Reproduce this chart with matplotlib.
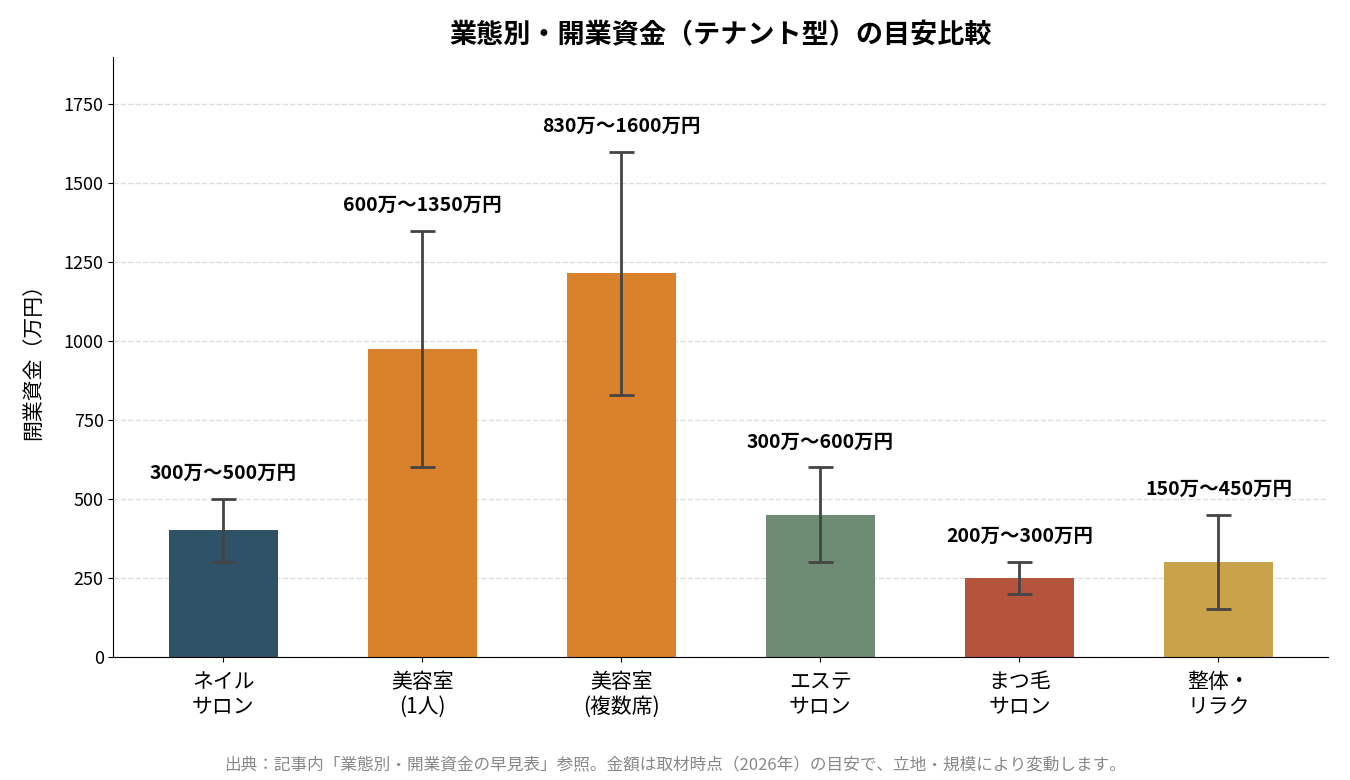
import numpy as np
import matplotlib
matplotlib.use("Agg")
import matplotlib.pyplot as plt

plt.rcParams['font.family'] = ['Noto Sans CJK JP', 'DejaVu Sans']

# 業態ごとの開業資金（万円）
categories = ["ネイル\nサロン", "美容室\n(1人)", "美容室\n(複数席)", "エステ\nサロン", "まつ毛\nサロン", "整体・\nリラク"]
low_values = [300, 600, 830, 300, 200, 150]
high_values = [500, 1350, 1600, 600, 300, 450]
range_labels = ["300万〜500万円", "600万〜1350万円", "830万〜1600万円",
                "300万〜600万円", "200万〜300万円", "150万〜450万円"]
bar_colors = ["#2E5266", "#D9822B", "#D9822B", "#6E8B74", "#B5533C", "#C9A24A"]

low = np.array(low_values)
high = np.array(high_values)
mid = (low + high) / 2
err = [mid - low, high - mid]

fig, ax = plt.subplots(figsize=(13.5, 7.8), dpi=100)
fig.subplots_adjust(left=0.084, right=0.984, top=0.927, bottom=0.158)

x = np.arange(len(categories))
ax.bar(x, mid, width=0.55, color=bar_colors, zorder=2)
ax.errorbar(x, mid, yerr=err, fmt='none', ecolor="#444444", elinewidth=2,
            capsize=9, capthick=2, zorder=3)

for xi, hi, lab in zip(x, high, range_labels):
    ax.text(xi, hi + 50, lab, ha='center', va='bottom', fontsize=14, fontweight='bold')

ax.set_ylim(0, 1900)
ax.set_yticks(np.arange(0, 1751, 250))
ax.set_xticks(x)
ax.set_xticklabels(categories, fontsize=15, linespacing=1.15)
ax.tick_params(axis='x', pad=7)
ax.tick_params(axis='y', labelsize=13)
ax.set_ylabel("開業資金（万円）", fontsize=15, labelpad=14)
ax.set_title("業態別・開業資金（テナント型）の目安比較", fontsize=19.5, fontweight='bold', pad=10)
ax.grid(axis='y', linestyle='--', color='#DDDDDD', linewidth=1, zorder=0)
ax.set_axisbelow(True)
for s in ['top', 'right']:
    ax.spines[s].set_visible(False)

fig.text(0.5, 0.008, "出典：記事内「業態別・開業資金の早見表」参照。金額は取材時点（2026年）の目安で、立地・規模により変動します。",
         ha='center', va='bottom', fontsize=12, color='#888888')

fig.savefig("out.png", dpi=100)
